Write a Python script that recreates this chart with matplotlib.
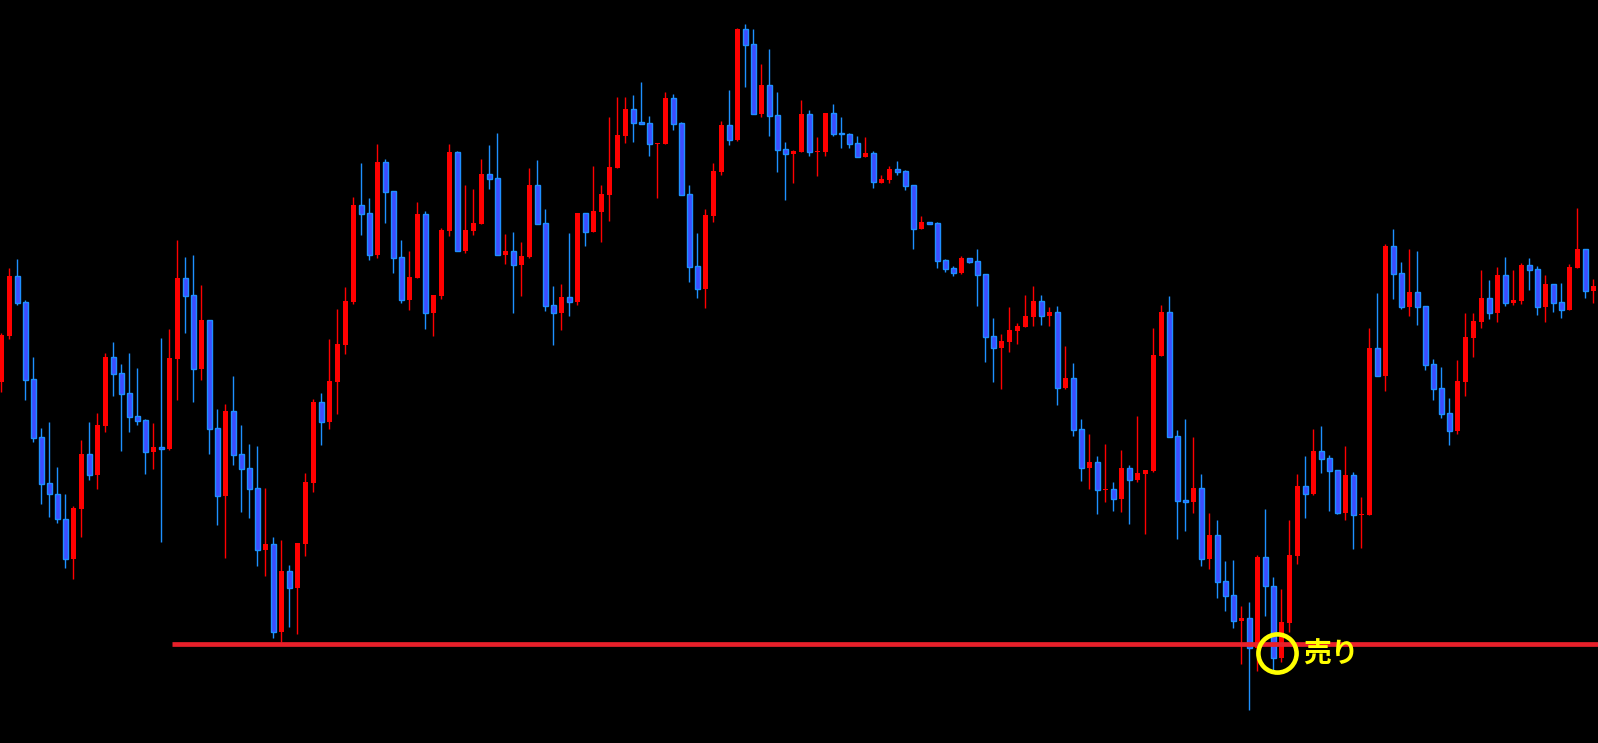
import matplotlib
matplotlib.use('Agg')
from matplotlib import pyplot as plt
import numpy as np

plt.rcParams['font.family'] = ['Noto Sans CJK JP', 'DejaVu Sans']

# ローソク足データ（始値・高値・安値・終値）
opens = [318, 364, 424, 398, 321, 263, 217, 206, 181, 141,
         191, 246, 225, 274, 343, 327, 307, 284, 280, 248,
         253, 251, 341, 422, 405, 331, 380, 272, 204, 289,
         246, 232, 212, 150, 156, 68, 129, 112, 156, 217,
         298, 278, 318, 355, 398, 495, 487, 445, 538, 509,
         443, 400, 422, 486, 387, 404, 469, 548, 449, 469,
         476, 526, 522, 445, 449, 435, 443, 515, 477, 395,
         387, 403, 398, 487, 468, 488, 505, 532, 564, 591,
         578, 577, 556, 556, 602, 577, 506, 434, 411, 484,
         528, 575, 560, 671, 656, 586, 615, 585, 551, 546,
         548, 586, 548, 548, 587, 567, 566, 557, 543, 547,
         517, 520, 531, 529, 515, 471, 478, 477, 440, 432,
         427, 442, 439, 426, 364, 352, 358, 369, 373, 383,
         399, 384, 388, 312, 322, 271, 232, 238, 210, 211,
         201, 232, 220, 226, 229, 344, 388, 264, 200, 198,
         212, 141, 165, 119, 105, 79, 82, 52, 143, 114,
         42, 77, 144, 214, 206, 249, 242, 230, 187, 225,
         185, 185, 352, 324, 454, 427, 393, 408, 394, 336,
         312, 287, 269, 318, 362, 378, 402, 387, 425, 397,
         399, 435, 431, 393, 416, 398, 390, 432, 451, 409]
highs = [367, 432, 441, 400, 343, 272, 278, 233, 206, 194,
         260, 278, 287, 347, 358, 336, 347, 332, 281, 277,
         362, 371, 460, 443, 445, 415, 380, 291, 296, 324,
         275, 256, 254, 212, 163, 160, 135, 157, 227, 301,
         307, 361, 391, 413, 503, 537, 502, 556, 541, 509,
         460, 449, 498, 489, 405, 472, 556, 549, 515, 511,
         541, 555, 567, 466, 468, 458, 532, 540, 491, 414,
         416, 467, 487, 487, 534, 515, 583, 603, 603, 605,
         618, 584, 557, 608, 606, 578, 515, 467, 491, 537,
         579, 610, 672, 676, 671, 636, 651, 608, 558, 550,
         600, 590, 563, 587, 596, 583, 567, 564, 563, 549,
         525, 534, 539, 530, 515, 484, 478, 478, 441, 434,
         444, 442, 451, 426, 382, 366, 393, 377, 405, 414,
         405, 393, 394, 354, 337, 281, 266, 244, 256, 218,
         250, 235, 284, 230, 372, 395, 404, 270, 281, 263,
         226, 187, 180, 139, 140, 94, 98, 145, 191, 123,
         111, 180, 226, 244, 271, 274, 245, 230, 254, 228,
         203, 372, 407, 456, 471, 438, 451, 449, 394, 341,
         333, 302, 340, 387, 387, 430, 420, 433, 443, 430,
         437, 442, 434, 425, 416, 417, 436, 492, 451, 421]
lows = [308, 361, 395, 300, 258, 196, 183, 177, 132, 121,
        163, 220, 211, 268, 304, 249, 268, 275, 226, 231,
        158, 250, 300, 367, 298, 320, 246, 175, 142, 235,
        188, 182, 134, 124, 62, 58, 73, 66, 144, 208,
        255, 271, 286, 346, 396, 465, 440, 442, 477, 427,
        397, 390, 422, 371, 364, 401, 464, 449, 447, 465,
        476, 511, 445, 436, 387, 404, 442, 476, 389, 355,
        370, 384, 395, 454, 468, 458, 479, 532, 557, 558,
        576, 544, 502, 556, 570, 505, 418, 402, 392, 478,
        525, 555, 559, 613, 586, 583, 564, 528, 500, 517,
        548, 544, 524, 544, 564, 552, 552, 543, 543, 512,
        517, 517, 525, 510, 451, 471, 476, 432, 428, 424,
        426, 437, 394, 338, 318, 311, 348, 356, 373, 374,
        375, 374, 295, 311, 264, 219, 211, 186, 198, 189,
        188, 176, 218, 166, 228, 344, 263, 161, 169, 187,
        134, 131, 102, 89, 72, 36, -10, 29, 84, 29,
        38, 68, 136, 182, 205, 227, 189, 186, 180, 151,
        152, 185, 324, 309, 401, 391, 384, 375, 330, 300,
        282, 255, 266, 304, 343, 372, 381, 378, 394, 395,
        396, 410, 385, 378, 388, 382, 390, 432, 402, 397]
closes = [365, 424, 397, 320, 262, 216, 206, 181, 141, 192,
          246, 225, 275, 343, 326, 306, 283, 279, 248, 253,
          251, 342, 422, 404, 331, 380, 271, 204, 289, 245,
          231, 211, 150, 156, 68, 129, 112, 157, 218, 298,
          278, 319, 356, 399, 495, 486, 445, 538, 508, 442,
          400, 423, 486, 387, 405, 470, 548, 449, 470, 477,
          526, 521, 445, 449, 435, 444, 515, 476, 394, 387,
          403, 398, 487, 468, 489, 506, 533, 565, 591, 577,
          576, 556, 557, 602, 576, 505, 433, 411, 485, 529,
          575, 560, 671, 655, 586, 615, 584, 550, 546, 549,
          586, 548, 549, 587, 566, 566, 556, 543, 547, 518,
          521, 531, 528, 514, 471, 478, 476, 439, 431, 427,
          442, 438, 425, 363, 352, 359, 370, 374, 384, 399,
          384, 388, 312, 322, 270, 232, 238, 210, 211, 201,
          232, 220, 227, 230, 345, 388, 263, 199, 198, 212,
          141, 165, 118, 104, 79, 82, 52, 143, 114, 42,
          78, 145, 214, 206, 249, 241, 229, 187, 225, 185,
          186, 352, 324, 454, 426, 393, 408, 393, 335, 311,
          286, 269, 319, 363, 379, 402, 387, 425, 397, 400,
          435, 430, 393, 416, 397, 390, 433, 451, 409, 414]

# 水平線（サポートライン）と売りシグナル
line_level = 56
line_start = 21.3
sell_index = 159.4
sell_price = 47
sell_label = '売り'

up_color = '#ff0000'
down_fill = '#3d4dff'
down_edge = '#1e90ff'

fig = plt.figure(figsize=(15.98, 7.43), dpi=100, facecolor='black')
ax = fig.add_axes([0, 0, 1, 1])
ax.set_facecolor('black')

n = len(opens)
x = np.arange(n)
o = np.array(opens)
h = np.array(highs)
l = np.array(lows)
c = np.array(closes)
up = c >= o

# ヒゲ
ax.vlines(x[up], l[up], h[up], color=up_color, linewidth=1.0, zorder=2)
ax.vlines(x[~up], l[~up], h[~up], color=down_edge, linewidth=1.0, zorder=2)

# 実体
width = 0.56
body_lo = np.minimum(o, c)
body_h = np.maximum(np.abs(c - o), 1.2)
ax.bar(x[up], body_h[up], width, bottom=body_lo[up], color=up_color,
       edgecolor=up_color, linewidth=0, zorder=3)
ax.bar(x[~up], body_h[~up], width, bottom=body_lo[~up], color=down_fill,
       edgecolor=down_edge, linewidth=1.0, zorder=3)

# 水平線
ax.hlines(line_level, line_start, n + 1, color='#e8202a', linewidth=3.4, zorder=4)

# 丸印とテキスト
ax.plot([sell_index], [sell_price], marker='o', markersize=27.5, markerfacecolor='none',
        markeredgecolor='#ffff00', markeredgewidth=3.3, zorder=5)
ax.text(sell_index + 3.3, sell_price - 1.5, sell_label, color='#ffff00', fontsize=20,
        fontweight='bold', va='center', ha='left', zorder=6)

ax.set_xlim(-0.1667, 199.58)
ax.set_ylim(-43, 700)
ax.axis('off')

plt.savefig('out.png', dpi=100, facecolor='black')
